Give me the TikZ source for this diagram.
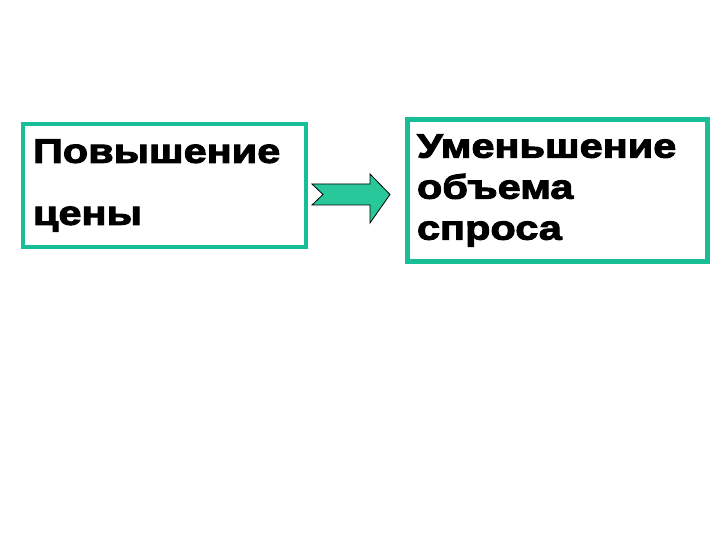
\documentclass[tikz,border=0pt]{standalone}
\usepackage{fontspec}
\newfontfamily\heavyfont[FakeStretch=1.22,FakeBold=3]{Liberation Sans Bold}
\definecolor{boxgreen}{RGB}{24,190,150}
\definecolor{arrowgreen}{RGB}{40,200,155}
\tikzset{
  textbox/.style={draw=boxgreen,fill=white,inner xsep=10bp,inner ysep=0pt,
    align=left,font=\heavyfont\fontsize{34bp}{#1}\selectfont},
}
\begin{document}
\begin{tikzpicture}[x=1bp,y=-1bp,line join=miter]
\useasboundingbox[fill=white] (0,0) rectangle (720,540);
\node[textbox=62bp,line width=4bp,minimum width=283bp,minimum height=123bp,
  text width=263bp] (price) at (164.5,185.5) {Повышение\\цены};
\node[textbox=41bp,line width=5bp,minimum width=300bp,minimum height=141bp,
  text width=280bp] (demand) at (557,190.5) {Уменьшение\\объема\\спроса};
% block arrow between the boxes
\path
  (312,184) coordinate (T1)
  (323,194.5) coordinate (N)
  (312,205) coordinate (T2)
  (370,205) coordinate (B2)
  (370,223) coordinate (H2)
  (390,194.5) coordinate (P)
  (370,174) coordinate (H1)
  (370,184) coordinate (B1)
  ;
\draw[fill=arrowgreen,line width=0.8bp] (T1)--(N)--(T2)--(B2)--(H2)--(P)--(H1)--(B1)--cycle;
\end{tikzpicture}
\end{document}
